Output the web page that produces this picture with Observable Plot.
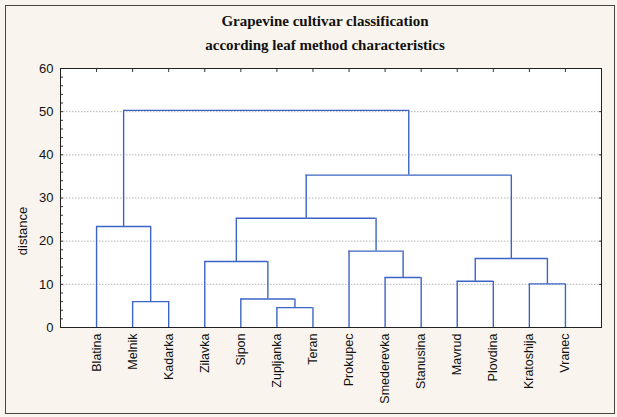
<!DOCTYPE html>
<html><head><meta charset="utf-8">
<script src="https://cdn.jsdelivr.net/npm/d3@7"></script>
<script src="https://cdn.jsdelivr.net/npm/@observablehq/plot@0.6"></script>
<style>
body{margin:0;background:#f9f5ee;}
#wrap{position:relative;width:617px;height:417px;overflow:hidden;background:#f9f5ee;}
#border{position:absolute;left:5px;top:5px;width:610px;height:409px;border:1px solid #444;box-sizing:border-box;}
#title{position:absolute;left:0;width:650px;top:9px;text-align:center;font:bold 15px "Liberation Serif";line-height:24px;color:#111;}
#ylab{position:absolute;left:22px;top:231px;transform:translate(-50%,-50%) rotate(-90deg);font:13px "Liberation Sans";color:#111;white-space:nowrap;}
#chart{position:absolute;left:0;top:56px;}
</style>
</head><body>
<div id="wrap">
<div id="border"></div>
<div id="title">Grapevine cultivar classification<br>according leaf method characteristics</div>
<div id="ylab">distance</div>
<div id="chart"></div>
</div>
<script>
const leaves = ["Blatina","Melnik","Kadarka","Zilavka","Sipon","Zupljanka","Teran","Prokupec","Smederevka","Stanusina","Mavrud","Plovdina","Kratoshija","Vranec"];
// merges: cluster k is named "c"+(k+1)
const mergeLeft   = ["Melnik","Blatina","Zupljanka","Sipon","Zilavka","Smederevka","Prokupec","c5","Mavrud","Kratoshija","c9","c8","c2"];
const mergeRight  = ["Kadarka","c1","Teran","c3","c4","Stanusina","c6","c7","Plovdina","Vranec","c10","c11","c12"];
const mergeHeight = [6.0,23.4,4.6,6.6,15.3,11.6,17.7,25.3,10.7,10.1,16.0,35.3,50.3];
const yTicks = [0,10,20,30,40,50,60];

const pos = {}, hgt = {};
leaves.forEach((n,i)=>{pos[n]=i+1;hgt[n]=0;});
const horiz = [], verts = [];
mergeHeight.forEach((h,k)=>{
  const l = mergeLeft[k], r = mergeRight[k], id = "c"+(k+1);
  horiz.push({x1:pos[l], x2:pos[r], y:h});
  verts.push({x:pos[l], y1:hgt[l], y2:h});
  verts.push({x:pos[r], y1:hgt[r], y2:h});
  pos[id] = (pos[l]+pos[r])/2; hgt[id] = h;
});
const blue = "#3d64c4";
const chart = Plot.plot({
  width: 617, height: 361,
  marginLeft: 60, marginRight: 16, marginTop: 12, marginBottom: 90,
  style: {background:"transparent", fontFamily:"Liberation Sans", fontSize:"13px", color:"#111"},
  x: {type:"linear", domain:[0, leaves.length+1]},
  y: {domain:[0,60]},
  marks: [
    Plot.frame({fill:"white", stroke:null}),
    Plot.gridY([10,20,30,40,50], {stroke:"#b5b5b5", strokeOpacity:1, strokeDasharray:"1.5,1.5"}),
    Plot.ruleX(verts, {x:"x", y1:"y1", y2:"y2", stroke:blue, strokeWidth:1.4}),
    Plot.ruleY(horiz, {y:"y", x1:"x1", x2:"x2", stroke:blue, strokeWidth:1.4}),
    Plot.axisY({ticks: d3.range(0,61,2), tickSize:-3, tickFormat:()=>"", label:null, stroke:"#333"}),
    Plot.axisY({ticks: yTicks, tickSize:0, tickPadding:7, label:null, fontSize:13}),
    Plot.axisY({anchor:"right", ticks: yTicks, tickSize:-3, tickFormat:()=>"", label:null, stroke:"#333"}),
    Plot.axisX({anchor:"top", ticks: d3.range(1,leaves.length+1), tickSize:-3, tickFormat:()=>"", label:null, stroke:"#333"}),
    Plot.axisX({anchor:"bottom", ticks: d3.range(1,leaves.length+1), tickSize:0, tickRotate:-90, tickPadding:6, tickFormat:i=>leaves[i-1], label:null, fontSize:12.5}),
    Plot.frame({stroke:"#222"})
  ]
});
document.getElementById("chart").appendChild(chart);
</script>
</body></html>
